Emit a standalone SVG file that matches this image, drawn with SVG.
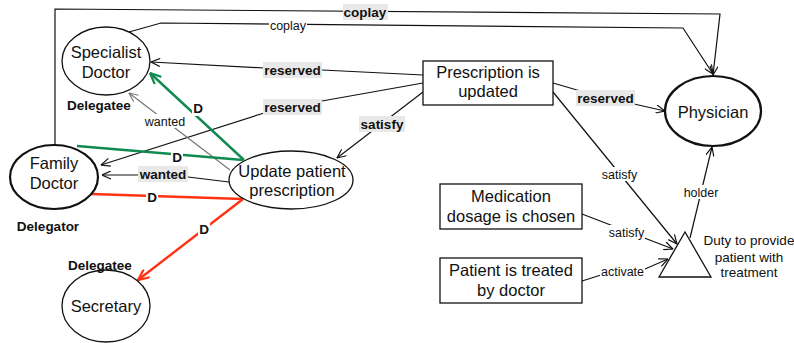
<svg xmlns="http://www.w3.org/2000/svg" width="794" height="343" viewBox="0 0 794 343">
<style>
text{font-family:"Liberation Sans",Arial,sans-serif;fill:#111}
.node{font-size:16.5px;text-anchor:middle}
.el{fill:#fff;stroke:#111;stroke-width:1.3}
.thick{stroke-width:2.2}
.box{fill:#fff;stroke:#111;stroke-width:1.3}
.e{fill:none;stroke:#111;stroke-width:1.2}
.gr{fill:none;stroke:#777;stroke-width:1.2}
.g{fill:none;stroke:#0f8a50;stroke-width:2.4}
.r{fill:none;stroke:#ff3214;stroke-width:2.4}
.bl{font-size:13.5px;font-weight:bold;text-anchor:middle}
.nl{font-size:12.5px;text-anchor:middle}
.bgg{fill:#e8e8e8}
.bgw{fill:#fff}
.role{font-size:13.5px;font-weight:bold;text-anchor:middle}
</style>
<defs>
<marker id="a" viewBox="0 0 10 10" refX="10" refY="5" markerWidth="10" markerHeight="9" markerUnits="userSpaceOnUse" orient="auto"><path d="M0,0.5 L10,5 L0,9.5" fill="none" stroke="#111" stroke-width="1.3"/></marker>
<marker id="ag" viewBox="0 0 10 10" refX="10" refY="5" markerWidth="12" markerHeight="11" markerUnits="userSpaceOnUse" orient="auto"><path d="M0,0.5 L10,5 L0,9.5" fill="none" stroke="#0f8a50" stroke-width="2"/></marker>
<marker id="ar" viewBox="0 0 10 10" refX="10" refY="5" markerWidth="12" markerHeight="11" markerUnits="userSpaceOnUse" orient="auto"><path d="M0,0.5 L10,5 L0,9.5" fill="none" stroke="#ff3214" stroke-width="2"/></marker>
<marker id="agr" viewBox="0 0 10 10" refX="10" refY="5" markerWidth="10" markerHeight="9" markerUnits="userSpaceOnUse" orient="auto"><path d="M0,0.5 L10,5 L0,9.5" fill="none" stroke="#777" stroke-width="1.3"/></marker>
</defs>

<g id="connectors">
<polyline class="e" points="55,146 55,9 720,14 713,75" marker-end="url(#a)"/>
<polyline class="e" points="129,32 161,23 683,28 713,74" marker-end="url(#a)"/>
<polyline class="e" points="423,75 322,70 264,68 151,62" marker-end="url(#a)"/>
<polyline class="e" points="423,83 322,101 264,113 101,165" marker-end="url(#a)"/>
<polyline class="e" points="423,92 337,158" marker-end="url(#a)"/>
<polyline class="e" points="553,83 577,90 634,104 665,111" marker-end="url(#a)"/>
<polyline class="e" points="553,92 677,244" marker-end="url(#a)"/>
<polyline class="e" points="690,238 712,147" marker-end="url(#a)"/>
<polyline class="e" points="582,214 673,249" marker-end="url(#a)"/>
<polyline class="e" points="582,281 601,275 645,269 668,259" marker-end="url(#a)"/>
<polyline class="e" points="229,182 188,177 139,175 102,175" marker-end="url(#a)"/>
<polyline class="gr" points="230,170 129,93" marker-end="url(#agr)"/>
<polyline class="g" points="244,160 150,73" marker-end="url(#ag)"/>
<polyline class="g" points="77,146 243,160"/>
<polyline class="r" points="92,194 243,199"/>
<polyline class="r" points="243,199 138,280" marker-end="url(#ar)"/>
</g>

<g id="edge-labels">
<rect class="bgg" x="343" y="4" width="45" height="16"/><text class="bl" x="365" y="17">coplay</text>
<rect class="bgw" x="269" y="18" width="38" height="14"/><text class="nl" x="288" y="29.5">coplay</text>
<rect class="bgg" x="263" y="62" width="59" height="16"/><text class="bl" x="292.5" y="75">reserved</text>
<rect class="bgg" x="263" y="99" width="59" height="16"/><text class="bl" x="292.5" y="112">reserved</text>
<rect class="bgg" x="359" y="116" width="46" height="16"/><text class="bl" x="382" y="129">satisfy</text>
<rect class="bgg" x="576" y="90" width="59" height="16"/><text class="bl" x="605.5" y="103">reserved</text>
<rect class="bgg" x="138" y="166" width="50" height="16"/><text class="bl" x="163" y="179">wanted</text>
<rect class="bgw" x="145" y="114" width="40" height="14"/><text class="nl" x="165" y="125.5">wanted</text>
<rect class="bgw" x="601" y="167" width="37" height="14"/><text class="nl" x="619.5" y="178.5">satisfy</text>
<rect class="bgw" x="608" y="225" width="37" height="14"/><text class="nl" x="626.5" y="236.5">satisfy</text>
<rect class="bgw" x="600" y="264" width="45" height="14"/><text class="nl" x="622.5" y="275.5">activate</text>
<rect class="bgw" x="683" y="185" width="36" height="14"/><text class="nl" x="701" y="196.5">holder</text>
<rect class="bgw" x="192" y="100" width="12" height="16"/><text class="bl" x="198" y="113">D</text>
<rect class="bgw" x="171" y="149" width="12" height="16"/><text class="bl" x="177" y="162">D</text>
<rect class="bgw" x="146" y="189" width="12" height="16"/><text class="bl" x="152" y="202">D</text>
<rect class="bgw" x="198" y="221" width="12" height="16"/><text class="bl" x="204" y="234">D</text>
</g>

<g id="specialist-doctor">
<ellipse class="el" cx="106" cy="61" rx="44" ry="34"/>
<text class="node" x="106" y="58">Specialist</text>
<text class="node" x="106" y="78">Doctor</text>
<text class="role" x="99" y="110">Delegatee</text>
</g>
<g id="family-doctor">
<ellipse class="el thick" cx="54" cy="177" rx="44" ry="32"/>
<text class="node" x="54" y="169">Family</text>
<text class="node" x="54" y="189">Doctor</text>
<text class="role" x="48" y="231">Delegator</text>
</g>
<g id="update-patient-prescription">
<ellipse class="el" cx="291" cy="180" rx="62" ry="29"/>
<text class="node" x="292" y="177">Update patient</text>
<text class="node" x="292" y="196">prescription</text>
</g>
<g id="secretary">
<ellipse class="el" cx="106" cy="306" rx="44" ry="36"/>
<text class="node" x="106" y="312">Secretary</text>
<text class="role" x="100" y="270">Delegatee</text>
</g>
<g id="physician">
<ellipse class="el thick" cx="713" cy="111" rx="48" ry="35"/>
<text class="node" x="713" y="118">Physician</text>
</g>
<g id="prescription-updated">
<rect class="box" x="423" y="61" width="130" height="44"/>
<text class="node" x="488" y="78">Prescription is</text>
<text class="node" x="488" y="97">updated</text>
</g>
<g id="medication-dosage">
<rect class="box" x="440" y="184" width="142" height="45"/>
<text class="node" x="511" y="202">Medication</text>
<text class="node" x="511" y="222">dosage is chosen</text>
</g>
<g id="patient-treated">
<rect class="box" x="440" y="258" width="142" height="45"/>
<text class="node" x="511" y="276">Patient is treated</text>
<text class="node" x="511" y="296">by doctor</text>
</g>
<g id="duty">
<polygon class="box" points="685,232 659,277 711,277"/>
<text class="role" style="font-weight:normal" x="749" y="245">Duty to provide</text>
<text class="role" style="font-weight:normal" x="749" y="262">patient with</text>
<text class="role" style="font-weight:normal" x="749" y="277">treatment</text>
</g>
</svg>
